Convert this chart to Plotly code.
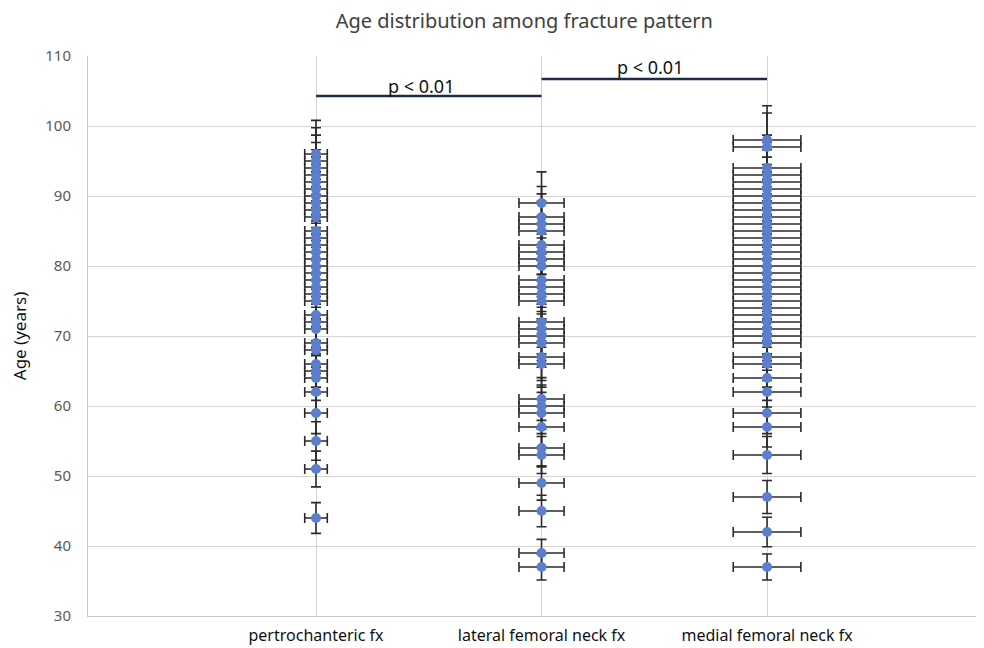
import plotly.graph_objects as go

categories = ["pertrochanteric fx", "lateral femoral neck fx", "medial femoral neck fx"]
cat_pos = [1, 2, 3]

pertrochanteric_ages = [44, 51, 55, 59, 62, 64, 65, 66, 68, 69, 71, 72, 73,
                        75, 76, 77, 78, 79, 80, 81, 82, 83, 84, 85,
                        87, 88, 89, 90, 91, 92, 93, 94, 95, 96]
lateral_ages = [37, 39, 45, 49, 53, 54, 57, 59, 60, 61, 66, 67,
                69, 70, 71, 72, 75, 76, 77, 78, 80, 81, 82, 83,
                85, 86, 87, 89]
medial_ages = [37, 42, 47, 53, 57, 59, 62, 64, 66, 67,
               69, 70, 71, 72, 73, 74, 75, 76, 77, 78, 79, 80, 81, 82, 83,
               84, 85, 86, 87, 88, 89, 90, 91, 92, 93, 94, 97, 98]

error_percent = 5

bracket_from = [1, 2]
bracket_to = [2, 3]
bracket_y = [104.3, 106.7]
bracket_text = ["p < 0.01", "p < 0.01"]
bracket_text_x = [1.466, 2.48]
bracket_text_y = [105.7, 108.4]

y_ticks = [30, 40, 50, 60, 70, 80, 90, 100, 110]

FONT = "Noto Sans"
BLUE = "#5b7fcf"
ERR = "#2b2b2b"

fig = go.Figure()

for pos, ages in zip(cat_pos, [pertrochanteric_ages, lateral_ages, medial_ages]):
    fig.add_trace(go.Scatter(
        x=[pos] * len(ages), y=ages, mode="markers",
        marker=dict(color=BLUE, size=10),
        error_x=dict(type="percent", value=error_percent, color=ERR, thickness=1.6, width=5),
        error_y=dict(type="percent", value=error_percent, color=ERR, thickness=1.6, width=5),
        showlegend=False, hoverinfo="y",
    ))

for x0, x1, yb, txt, tx, ty in zip(bracket_from, bracket_to, bracket_y, bracket_text,
                                    bracket_text_x, bracket_text_y):
    fig.add_trace(go.Scatter(
        x=[x0, x1], y=[yb, yb], mode="lines",
        line=dict(color="#1f2a48", width=2.5),
        showlegend=False, hoverinfo="skip",
    ))
    fig.add_annotation(x=tx, y=ty, text=txt, showarrow=False,
                       font=dict(family=FONT, size=18, color="#111111"),
                       xanchor="center", yanchor="middle")

fig.update_layout(
    width=976, height=640,
    margin=dict(l=80, r=0, t=48, b=32),
    paper_bgcolor="white", plot_bgcolor="white",
    title=dict(text="Age distribution among fracture pattern", x=0.529, xanchor="center",
               y=0.9905, yanchor="top", pad=dict(t=0, b=0),
               font=dict(family=FONT, size=20, color="#404040")),
    font=dict(family=FONT),
)

fig.update_xaxes(
    range=[-0.011, 3.962], tickvals=cat_pos, ticktext=categories,
    showgrid=True, gridcolor="#d4d4d4", gridwidth=1,
    showline=True, linecolor="#c8c8c8", linewidth=1,
    zeroline=False, ticks="", ticklabelstandoff=5,
    tickfont=dict(family=FONT, size=16, color="#111111"),
)
fig.update_yaxes(
    range=[30, 110], tickvals=y_ticks,
    showgrid=True, gridcolor="#d4d4d4", gridwidth=1,
    showline=True, linecolor="#c8c8c8", linewidth=1,
    zeroline=False, ticks="", ticklabelstandoff=13,
    tickfont=dict(family=FONT, size=15, color="#595959"),
    title=dict(text="Age (years)", font=dict(family=FONT, size=17, color="#111111"), standoff=18),
)

fig.write_html("out.html")
